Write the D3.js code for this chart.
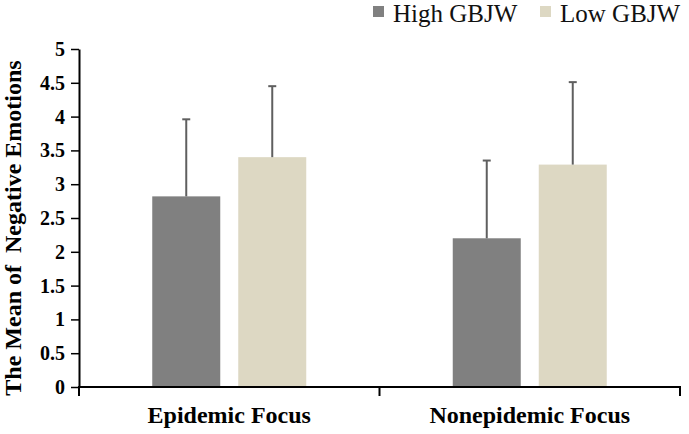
<!DOCTYPE html>
<html>
<head>
<meta charset="utf-8">
<script src="https://cdn.jsdelivr.net/npm/d3@7"></script>
<style>
  html, body { margin: 0; padding: 0; background: #fff; }
  svg { display: block; font-family: "Liberation Serif", "Times New Roman", serif; }
</style>
</head>
<body>
<svg id="chart" width="689" height="434"></svg>
<script>
// ---- data ----
const categories = ["Epidemic Focus", "Nonepidemic Focus"];
const seriesNames = ["High GBJW", "Low GBJW"];
const highMeans = [2.82, 2.20];
const lowMeans = [3.40, 3.29];
const highSD = [1.14, 1.15];
const lowSD = [1.05, 1.22];
const yTicks = [0, 0.5, 1, 1.5, 2, 2.5, 3, 3.5, 4, 4.5, 5];
const yTitle = "The Mean of  Negative Emotions";
const colors = ["#808080", "#ddd8c3"];

const rows = [];
categories.forEach((c, i) => {
  rows.push({cat: c, series: seriesNames[0], mean: highMeans[i], sd: highSD[i]});
  rows.push({cat: c, series: seriesNames[1], mean: lowMeans[i], sd: lowSD[i]});
});

const svg = d3.select("#chart");
const mLeft = 79, mRight = 680, mTop = 49, mBottom = 387;

const x = d3.scaleBand().domain(categories).range([mLeft, mRight]).padding(0);
const y = d3.scaleLinear().domain([0, 5]).range([mBottom, mTop]);
const color = d3.scaleOrdinal().domain(seriesNames).range(colors);
const inner = d3.scaleBand().domain(seriesNames)
  .range([-77, 77]).paddingInner(18 / 86).paddingOuter(0);

// bars
svg.append("g").selectAll("rect").data(rows).join("rect")
  .attr("x", d => x(d.cat) + x.bandwidth() / 2 + inner(d.series))
  .attr("y", d => y(d.mean))
  .attr("width", inner.bandwidth())
  .attr("height", d => y(0) - y(d.mean))
  .attr("fill", d => color(d.series));

// error bars (upper only)
const eb = svg.append("g").attr("stroke", "#5f5f5f").attr("stroke-width", 2);
rows.forEach(d => {
  const cx = x(d.cat) + x.bandwidth() / 2 + inner(d.series) + inner.bandwidth() / 2;
  eb.append("line").attr("x1", cx).attr("x2", cx)
    .attr("y1", y(d.mean)).attr("y2", y(d.mean + d.sd));
  eb.append("line").attr("x1", cx - 4).attr("x2", cx + 4)
    .attr("y1", y(d.mean + d.sd)).attr("y2", y(d.mean + d.sd));
});

// y axis
const yAxis = svg.append("g").attr("transform", `translate(${mLeft},0)`)
  .call(d3.axisLeft(y).tickValues(yTicks).tickSize(8).tickSizeOuter(0).tickPadding(6)
    .tickFormat(d3.format("")));
yAxis.select(".domain").attr("stroke", "#000").attr("stroke-width", 2);
yAxis.selectAll(".tick line").attr("stroke", "#000").attr("stroke-width", 1.5);
yAxis.selectAll(".tick text")
  .attr("font-family", "'Liberation Serif', 'Times New Roman', serif")
  .attr("font-size", 20).attr("font-weight", "bold").attr("fill", "#000");

// x axis
const xg = svg.append("g");
xg.append("line").attr("x1", mLeft - 1).attr("x2", mRight + 1)
  .attr("y1", mBottom).attr("y2", mBottom)
  .attr("stroke", "#000").attr("stroke-width", 2);
const edges = categories.map(c => x(c)).concat([x(categories[categories.length - 1]) + x.bandwidth()]);
xg.selectAll("line.tk").data(edges).join("line").attr("class", "tk")
  .attr("x1", d => d).attr("x2", d => d)
  .attr("y1", mBottom).attr("y2", mBottom + 9)
  .attr("stroke", "#000").attr("stroke-width", 2);
xg.selectAll("text").data(categories).join("text")
  .attr("x", d => x(d) + x.bandwidth() / 2)
  .attr("y", 423)
  .attr("text-anchor", "middle")
  .attr("font-size", 24).attr("font-weight", "bold").attr("fill", "#000")
  .text(d => d);

// y title
svg.append("text")
  .attr("transform", `translate(21,${(mTop + mBottom) / 2 + 10}) rotate(-90)`)
  .attr("text-anchor", "middle")
  .attr("font-size", 24).attr("font-weight", "bold").attr("fill", "#000")
  .style("white-space", "pre")
  .text(yTitle);

// legend
const legX = [373, 540];
const lg = svg.append("g");
seriesNames.forEach((s, i) => {
  lg.append("rect").attr("x", legX[i]).attr("y", 6).attr("width", 11).attr("height", 11)
    .attr("fill", colors[i]);
  lg.append("text").attr("x", legX[i] + 20).attr("y", 22)
    .attr("font-size", 25).attr("fill", "#111").text(s);
});
</script>
</body>
</html>
